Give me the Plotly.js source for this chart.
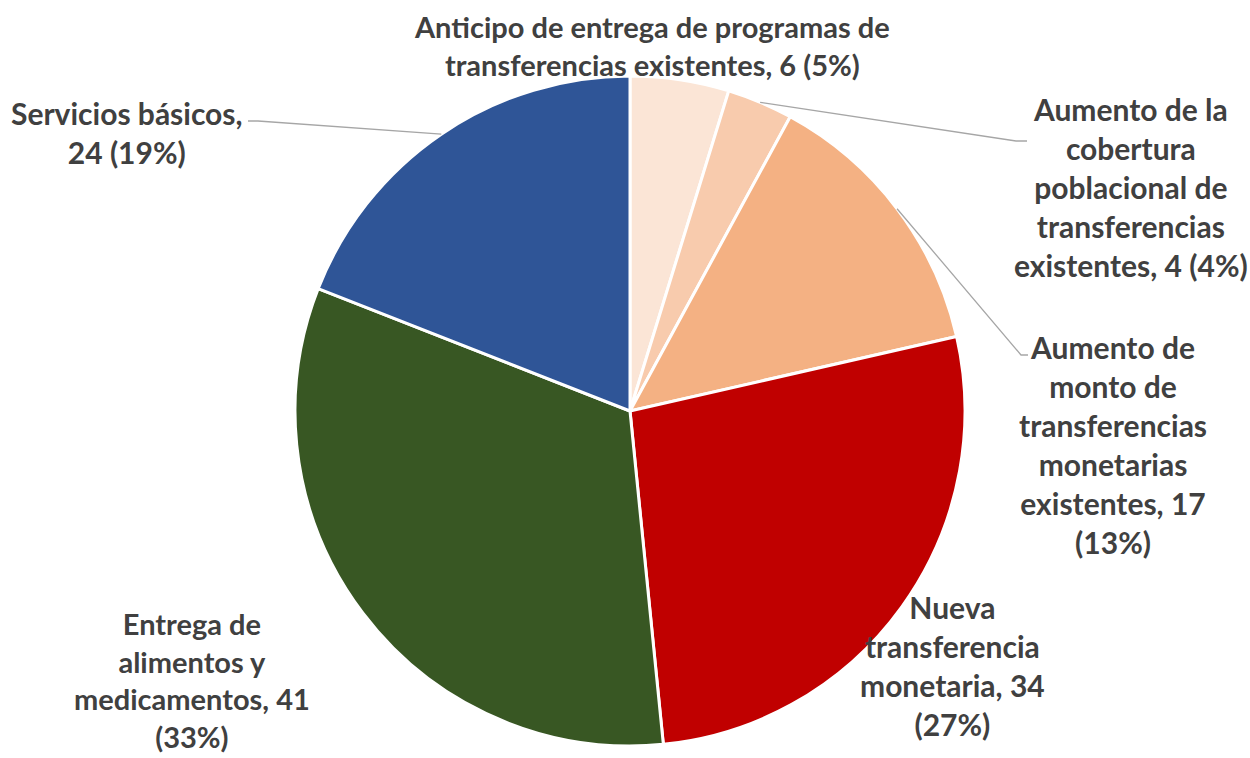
<!DOCTYPE html>
<html>
<head>
<meta charset="utf-8">
<script src="https://cdn.plot.ly/plotly-3.0.1.min.js"></script>
<style>html,body{margin:0;padding:0;background:#fff;}#chart{width:1250px;height:758px;}</style>
</head>
<body>
<div id="chart"></div>
<script>
// Data
const categories = [
  "Anticipo de entrega de programas de transferencias existentes",
  "Aumento de la cobertura poblacional de transferencias existentes",
  "Aumento de monto de transferencias monetarias existentes",
  "Nueva transferencia monetaria",
  "Entrega de alimentos y medicamentos",
  "Servicios básicos"
];
const values = [6, 4, 17, 34, 41, 24];
const percentLabels = ["5%", "4%", "13%", "27%", "33%", "19%"];
const labelTexts = [
  "Anticipo de entrega de programas de<br>transferencias existentes, 6 (5%)",
  "Aumento de la<br>cobertura<br>poblacional de<br>transferencias<br>existentes, 4 (4%)",
  "Aumento de<br>monto de<br>transferencias<br>monetarias<br>existentes, 17<br>(13%)",
  "Nueva<br>transferencia<br>monetaria, 34<br>(27%)",
  "Entrega de<br>alimentos y<br>medicamentos, 41<br>(33%)",
  "Servicios básicos,<br>24 (19%)"
];
const colors = ["#FBE5D6", "#F8CBAD", "#F4B183", "#C00000", "#385723", "#2F5597"];

// Layout geometry (pixels)
const W = 1250, H = 758;
const cx = 630, cy = 411, R = 335;
const labelPos = [[652, 45], [1131, 187], [1113, 444], [952, 665], [192, 680], [127, 133]];
const labelSize = [29, 30, 30, 30, 29, 30];
// leader line end points near the labels (null = no leader)
const leaderEnds = [null, [[1027, 141], [1016, 141]], [[1028, 355], [1021, 355]], null, null, [[248, 121], [258, 121]]];

const px = x => x / W, py = y => 1 - y / H;
const total = values.reduce((a, b) => a + b, 0);
let cum = 0;
const shapes = [];
const annotations = [];
values.forEach((v, i) => {
  const mid = (cum + v / 2) / total * 2 * Math.PI;
  cum += v;
  const ex = cx + R * Math.sin(mid), ey = cy - R * Math.cos(mid);
  if (leaderEnds[i]) {
    const [p1, p2] = leaderEnds[i];
    shapes.push({
      type: 'path', xref: 'paper', yref: 'paper',
      path: `M ${px(ex)} ${py(ey)} L ${px(p2[0])} ${py(p2[1])} L ${px(p1[0])} ${py(p1[1])}`,
      line: {color: '#A6A6A6', width: 1.3}
    });
  }
  annotations.push({
    xref: 'paper', yref: 'paper', x: px(labelPos[i][0]), y: py(labelPos[i][1]),
    xanchor: 'center', yanchor: 'middle', showarrow: false, align: 'center',
    text: labelTexts[i],
    font: {family: 'Lato, "Liberation Sans", sans-serif', size: labelSize[i], color: '#404040', weight: 'bold'}
  });
});

const trace = {
  type: 'pie',
  labels: categories,
  values: values,
  sort: false,
  direction: 'clockwise',
  rotation: 0,
  textinfo: 'none',
  hoverinfo: 'label+value+percent',
  marker: {colors: colors, line: {color: '#FFFFFF', width: 3}},
  domain: {x: [(cx - R) / W, (cx + R) / W], y: [1 - (cy + R) / H, 1 - (cy - R) / H]}
};

const layout = {
  width: W, height: H,
  margin: {l: 0, r: 0, t: 0, b: 0},
  paper_bgcolor: '#FFFFFF',
  showlegend: false,
  shapes: shapes,
  annotations: annotations
};

Plotly.newPlot('chart', [trace], layout, {displayModeBar: false, staticPlot: true});
</script>
</body>
</html>
